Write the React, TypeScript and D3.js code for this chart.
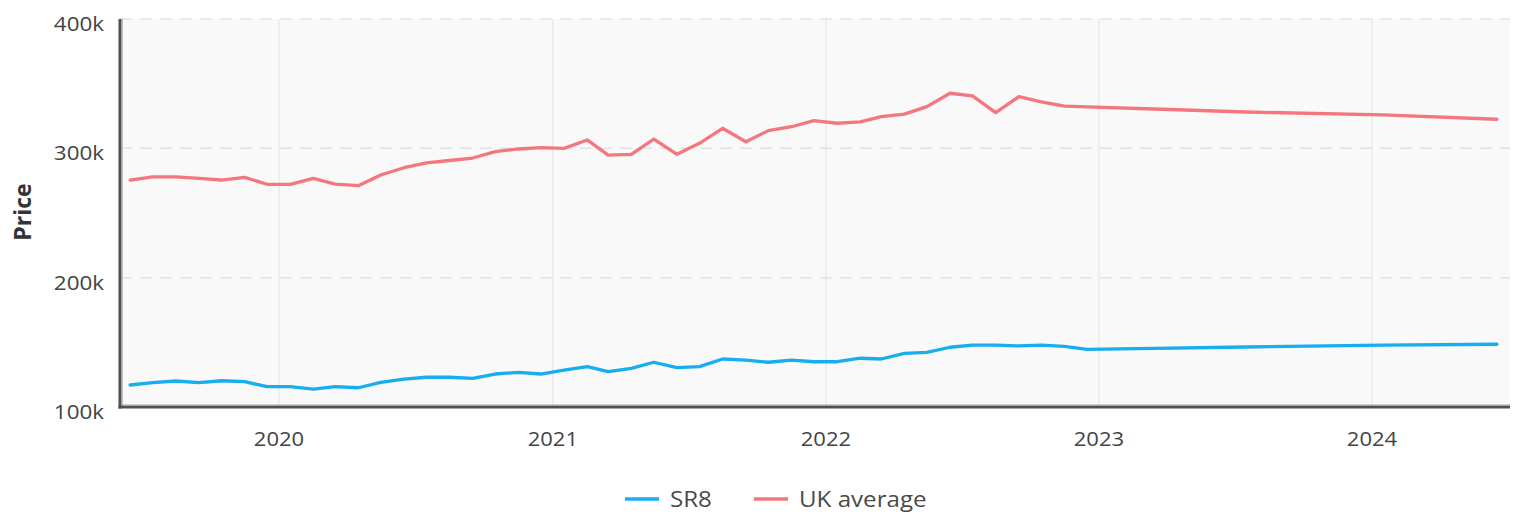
import React, { useEffect, useRef } from 'react';
import * as d3 from 'd3';

// monthly points (mid-month), then sparser after late 2022
const months = [
  '2019-06', '2019-07', '2019-08', '2019-09', '2019-10', '2019-11', '2019-12',
  '2020-01', '2020-02', '2020-03', '2020-04', '2020-05', '2020-06', '2020-07', '2020-08', '2020-09', '2020-10', '2020-11', '2020-12',
  '2021-01', '2021-02', '2021-03', '2021-04', '2021-05', '2021-06', '2021-07', '2021-08', '2021-09', '2021-10', '2021-11', '2021-12',
  '2022-01', '2022-02', '2022-03', '2022-04', '2022-05', '2022-06', '2022-07', '2022-08', '2022-09', '2022-10', '2022-11',
  '2022-12', '2023-03', '2023-07', '2024-01', '2024-06',
];

const sr8 = [
  117, 118.8, 120.1, 118.8, 120.3, 119.6, 115.7,
  115.7, 113.9, 115.7, 114.9, 119.1, 121.6, 123, 123, 122.2, 125.5, 126.8, 125.5,
  128.6, 131.2, 127.3, 129.9, 134.6, 130.4, 131.2, 137.1, 136.3, 134.6, 136.3, 135,
  135, 137.7, 137.1, 141.5, 142.3, 146.2, 147.9, 147.9, 147.2, 147.9, 146.8,
  144.6, 145.4, 146.4, 147.9, 148.5,
];

const ukAverage = [
  275.5, 278, 278, 276.7, 275.5, 277.6, 272.2,
  272.2, 276.8, 272.4, 271.1, 279.4, 285, 288.7, 290.6, 292.5, 297.4, 299.5, 300.5,
  300, 306.5, 294.8, 295.4, 307.2, 295.4, 303.9, 315.5, 305.1, 313.7, 316.7, 321.4,
  319.4, 320.4, 324.5, 326.5, 332.2, 342.6, 340.5, 327.6, 339.9, 336, 332.7,
  332, 330.4, 328.1, 325.8, 322.5,
];

const yTicks = [100000, 200000, 300000, 400000];
const yearTicks = ['2020', '2021', '2022', '2023', '2024'];

const seriesNames = ['SR8', 'UK average'];
const seriesColors = ['#16aeef', '#f4777e'];

const App = () => {
  const ref = useRef<SVGSVGElement>(null);

  useEffect(() => {
    document.body.style.margin = '0';
    const left = 120, right = 1510, top = 19, bottom = 407;
    const font = "'Open Sans', sans-serif";

    const svg = d3.select(ref.current);
    svg.selectAll('*').remove();

    const parse = (m: string) => new Date(m + '-16T00:00:00');
    const dates = months.map(parse);
    const yearDate = (d: string) => new Date(d + '-01-01T00:00:00');

    // fix the year ticks, then widen to the plot edges
    const base = d3.scaleTime()
      .domain([yearDate('2020'), yearDate('2024')])
      .range([279, 1372]);
    const x = d3.scaleTime().domain([base.invert(left), base.invert(right)]).range([left, right]);
    const y = d3.scaleLinear().domain([100000, 400000]).range([bottom, top]);

    svg.append('rect')
      .attr('x', left).attr('y', top)
      .attr('width', right - left).attr('height', bottom - top)
      .attr('fill', '#f9f9f9');

    // vertical grid
    svg.append('g').selectAll('line')
      .data(yearTicks)
      .enter().append('line')
      .attr('x1', (d) => x(yearDate(d)))
      .attr('x2', (d) => x(yearDate(d)))
      .attr('y1', top).attr('y2', bottom)
      .attr('stroke', '#e6e6e6').attr('stroke-width', 1.2);

    // horizontal dashed grid
    svg.append('g').selectAll('line')
      .data(yTicks.slice(1))
      .enter().append('line')
      .attr('x1', left).attr('x2', right)
      .attr('y1', (d) => y(d)).attr('y2', (d) => y(d))
      .attr('stroke', '#e2e2e2').attr('stroke-width', 1.5)
      .attr('stroke-dasharray', '12,8');

    // axes lines
    svg.append('line')
      .attr('x1', left + 2.5).attr('x2', left + 2.5).attr('y1', top).attr('y2', bottom)
      .attr('stroke', '#bdbdbd').attr('stroke-width', 1);
    svg.append('line')
      .attr('x1', left).attr('x2', right).attr('y1', bottom - 2.5).attr('y2', bottom - 2.5)
      .attr('stroke', '#cfcfcf').attr('stroke-width', 1);
    svg.append('line')
      .attr('x1', left).attr('x2', left).attr('y1', top).attr('y2', bottom + 1.5)
      .attr('stroke', '#505050').attr('stroke-width', 3);
    svg.append('line')
      .attr('x1', left - 1.5).attr('x2', right).attr('y1', bottom).attr('y2', bottom)
      .attr('stroke', '#505050').attr('stroke-width', 3);

    // y tick labels (text looks slightly stretched sideways in the original)
    svg.append('g').selectAll('text')
      .data(yTicks)
      .enter().append('text')
      .attr('transform', (d) => `translate(104,${y(d) + 12}) scale(1.12,1)`)
      .attr('text-anchor', 'end')
      .attr('font-family', font).attr('font-size', 20)
      .attr('fill', '#444')
      .text((d) => d3.format('d')(d / 1000) + 'k');

    // x tick labels
    svg.append('g').selectAll('text')
      .data(yearTicks)
      .enter().append('text')
      .attr('transform', (d) => `translate(${x(yearDate(d))},446) scale(1.1,1)`)
      .attr('text-anchor', 'middle')
      .attr('font-family', font).attr('font-size', 20)
      .attr('fill', '#444')
      .text((d) => d);

    svg.append('text')
      .attr('transform', 'translate(31,212) rotate(-90)')
      .attr('text-anchor', 'middle')
      .attr('font-family', font).attr('font-size', 23).attr('font-weight', 700)
      .attr('fill', '#333')
      .text('Price');

    const line = d3.line<number>()
      .x((_, i) => x(dates[i]))
      .y((d) => y(d * 1000));

    [sr8, ukAverage].forEach((vals, i) => {
      svg.append('path')
        .datum(vals)
        .attr('d', line)
        .attr('fill', 'none')
        .attr('stroke', seriesColors[i])
        .attr('stroke-width', 3.3)
        .attr('stroke-linejoin', 'round')
        .attr('stroke-linecap', 'round');
    });

    // legend
    const legendX = [625, 754];
    seriesNames.forEach((name, i) => {
      const g = svg.append('g').attr('transform', `translate(${legendX[i]},499)`);
      g.append('line')
        .attr('x1', 0).attr('x2', 34).attr('y1', 0).attr('y2', 0)
        .attr('stroke', seriesColors[i]).attr('stroke-width', 3.3);
      g.append('text')
        .attr('transform', 'translate(45,7.5) scale(1.15,1)')
        .attr('font-family', font).attr('font-size', 21)
        .attr('fill', '#4a4a4a')
        .text(name);
    });
  }, []);

  return <svg ref={ref} width={1520} height={516} style={{ display: 'block' }} />;
};

export default App;
